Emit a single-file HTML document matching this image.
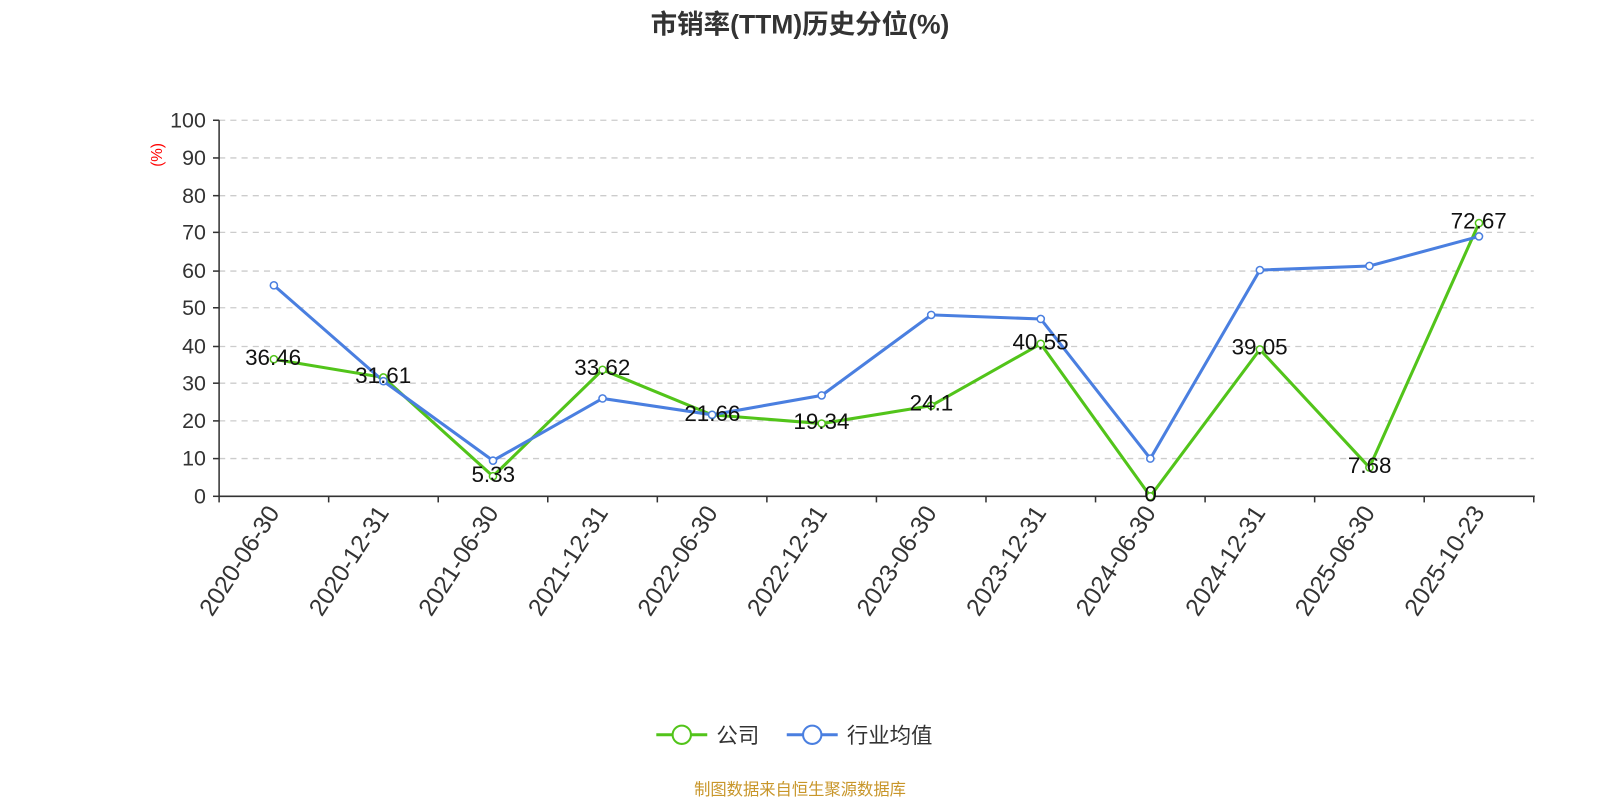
<!DOCTYPE html>
<html><head><meta charset="utf-8"><style>
body{margin:0;background:#fff;}
svg text{font-family:"Liberation Sans","Noto Sans CJK SC",sans-serif;}
</style></head><body>
<svg width="1600" height="800" viewBox="0 0 1570 785" xmlns="http://www.w3.org/2000/svg">
<text x="785" y="33" text-anchor="middle" font-size="26" font-weight="bold" fill="#333">市销率(TTM)历史分位(%)</text>
<g stroke="#ccc" stroke-dasharray="6,5" stroke-width="1.3">
<line x1="215" x2="1505" y1="118" y2="118"/><line x1="215" x2="1505" y1="155" y2="155"/>
<line x1="215" x2="1505" y1="192" y2="192"/><line x1="215" x2="1505" y1="228" y2="228"/>
<line x1="215" x2="1505" y1="266" y2="266"/><line x1="215" x2="1505" y1="302" y2="302"/>
<line x1="215" x2="1505" y1="340" y2="340"/><line x1="215" x2="1505" y1="376" y2="376"/>
<line x1="215" x2="1505" y1="413" y2="413"/><line x1="215" x2="1505" y1="450" y2="450"/>
</g>
<g stroke="#333" stroke-width="1.5">
<line x1="215" y1="118" x2="215" y2="487"/>
<line x1="215" y1="487" x2="1506" y2="487"/>
<line x1="209" x2="215" y1="118" y2="118"/><line x1="209" x2="215" y1="155" y2="155"/><line x1="209" x2="215" y1="192" y2="192"/><line x1="209" x2="215" y1="228" y2="228"/><line x1="209" x2="215" y1="266" y2="266"/><line x1="209" x2="215" y1="302" y2="302"/><line x1="209" x2="215" y1="340" y2="340"/><line x1="209" x2="215" y1="376" y2="376"/><line x1="209" x2="215" y1="413" y2="413"/><line x1="209" x2="215" y1="450" y2="450"/><line x1="209" x2="215" y1="487" y2="487"/>
<line x1="215" x2="215" y1="487" y2="493"/><line x1="322.5" x2="322.5" y1="487" y2="493"/><line x1="430" x2="430" y1="487" y2="493"/><line x1="537.5" x2="537.5" y1="487" y2="493"/><line x1="645" x2="645" y1="487" y2="493"/><line x1="752.5" x2="752.5" y1="487" y2="493"/><line x1="860" x2="860" y1="487" y2="493"/><line x1="967.5" x2="967.5" y1="487" y2="493"/><line x1="1075" x2="1075" y1="487" y2="493"/><line x1="1182.5" x2="1182.5" y1="487" y2="493"/><line x1="1290" x2="1290" y1="487" y2="493"/><line x1="1397.5" x2="1397.5" y1="487" y2="493"/><line x1="1505" x2="1505" y1="487" y2="493"/>
</g>
<g font-size="21" fill="#333" text-anchor="end">
<text x="202" y="125">100</text><text x="202" y="162">90</text><text x="202" y="199">80</text><text x="202" y="235">70</text><text x="202" y="273">60</text><text x="202" y="309">50</text><text x="202" y="347">40</text><text x="202" y="383">30</text><text x="202" y="420">20</text><text x="202" y="457">10</text><text x="202" y="494">0</text>
</g>
<text transform="translate(159,152) rotate(-90)" font-size="15" fill="red" text-anchor="middle">(%)</text>
<g font-size="24" fill="#333" text-anchor="end">
<text transform="translate(275,503) rotate(-57)">2020-06-30</text>
<text transform="translate(382.5,503) rotate(-57)">2020-12-31</text>
<text transform="translate(490,503) rotate(-57)">2021-06-30</text>
<text transform="translate(597.5,503) rotate(-57)">2021-12-31</text>
<text transform="translate(705,503) rotate(-57)">2022-06-30</text>
<text transform="translate(812.5,503) rotate(-57)">2022-12-31</text>
<text transform="translate(920,503) rotate(-57)">2023-06-30</text>
<text transform="translate(1027.5,503) rotate(-57)">2023-12-31</text>
<text transform="translate(1135,503) rotate(-57)">2024-06-30</text>
<text transform="translate(1242.5,503) rotate(-57)">2024-12-31</text>
<text transform="translate(1350,503) rotate(-57)">2025-06-30</text>
<text transform="translate(1457.5,503) rotate(-57)">2025-10-23</text>
</g>
<polyline fill="none" stroke="#52c41a" stroke-width="3" points="268.75,352.5 376.25,370.4 483.75,467.3 591.25,362.9 698.75,407.1 806.25,415.6 913.75,398.1 1021.25,337.4 1128.75,487 1236.25,342.9 1343.75,458.7 1451.25,218.9"/>
<polyline fill="none" stroke="#4a7fe0" stroke-width="3" points="268.75,280 376.25,374 483.75,452 591.25,391 698.75,407 806.25,388 913.75,309 1021.25,313 1128.75,450 1236.25,265 1343.75,261 1451.25,232"/>
<g fill="#fff" stroke="#52c41a" stroke-width="1.5">
<circle cx="268.75" cy="352.5" r="3.5"/><circle cx="376.25" cy="370.4" r="3.5"/><circle cx="483.75" cy="467.3" r="3.5"/><circle cx="591.25" cy="362.9" r="3.5"/><circle cx="698.75" cy="407.1" r="3.5"/><circle cx="806.25" cy="415.6" r="3.5"/><circle cx="913.75" cy="398.1" r="3.5"/><circle cx="1021.25" cy="337.4" r="3.5"/><circle cx="1128.75" cy="487" r="3.5"/><circle cx="1236.25" cy="342.9" r="3.5"/><circle cx="1343.75" cy="458.7" r="3.5"/><circle cx="1451.25" cy="218.9" r="3.5"/>
</g>
<g fill="#fff" stroke="#4a7fe0" stroke-width="1.5">
<circle cx="268.75" cy="280" r="3.5"/><circle cx="376.25" cy="374" r="3.5"/><circle cx="483.75" cy="452" r="3.5"/><circle cx="591.25" cy="391" r="3.5"/><circle cx="698.75" cy="407" r="3.5"/><circle cx="806.25" cy="388" r="3.5"/><circle cx="913.75" cy="309" r="3.5"/><circle cx="1021.25" cy="313" r="3.5"/><circle cx="1128.75" cy="450" r="3.5"/><circle cx="1236.25" cy="265" r="3.5"/><circle cx="1343.75" cy="261" r="3.5"/><circle cx="1451.25" cy="232" r="3.5"/>
</g>
<g font-size="22" fill="#111" text-anchor="middle">
<text x="268" y="358">36.46</text><text x="376" y="376">31.61</text><text x="484" y="473">5.33</text><text x="591" y="368">33.62</text><text x="699" y="413">21.66</text><text x="806" y="421">19.34</text><text x="914" y="403">24.1</text><text x="1021" y="343">40.55</text><text x="1129" y="492">0</text><text x="1236" y="348">39.05</text><text x="1344" y="464">7.68</text><text x="1451" y="224">72.67</text>
</g>
<line x1="644" x2="694" y1="721" y2="721" stroke="#52c41a" stroke-width="3"/>
<circle cx="669" cy="721" r="9" fill="#fff" stroke="#52c41a" stroke-width="2"/>
<text x="703" y="729" font-size="21" fill="#333">公司</text>
<line x1="772" x2="822" y1="721" y2="721" stroke="#4a7fe0" stroke-width="3"/>
<circle cx="797" cy="721" r="9" fill="#fff" stroke="#4a7fe0" stroke-width="2"/>
<text x="831" y="729" font-size="21" fill="#333">行业均值</text>
<text x="785" y="780" font-size="16" fill="#c8962a" text-anchor="middle">制图数据来自恒生聚源数据库</text>
</svg>
</body></html>
